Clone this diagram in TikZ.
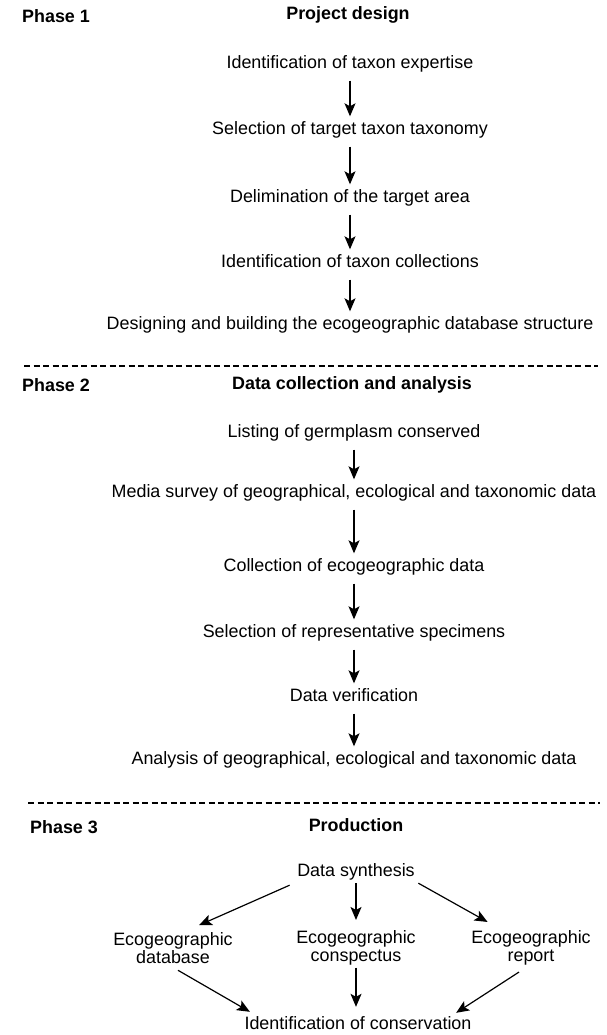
\documentclass[tikz,border=0pt]{standalone}
\usepackage{fontspec}
\setmainfont{Liberation Sans}
\usetikzlibrary{arrows.meta}

\tikzset{
  stage/.style={font=\fontsize{17.9}{18}\selectfont, inner sep=0pt, text height=13pt, text depth=4pt},
  twoline/.style={font=\fontsize{17.9}{18}\selectfont, inner sep=0pt, align=center},
  heading/.style={stage, font=\fontsize{17.9}{18}\selectfont\bfseries},
  phase/.style={heading, anchor=west},
  flow/.style={-{Stealth[length=13pt,width=11pt,inset=3pt]}, line width=1.2pt},
  chain/.style={flow, shorten <=8pt, shorten >=5pt},
  divider/.style={line width=1.6pt, dash pattern=on 6pt off 3.5pt}
}

\begin{document}
\begin{tikzpicture}[x=1pt,y=-1pt]
\useasboundingbox (0,0) rectangle (606,1035);

% phase 1:
\node[phase] (p1) at (22,18) {Phase 1};
\node[heading] (h1) at (348,15) {Project design};
\node[stage] (a1) at (350,64) {Identification of taxon expertise};
\node[stage] (a2) at (350,130) {Selection of target taxon taxonomy};
\node[stage] (a3) at (350,198) {Delimination of the target area};
\node[stage] (a4) at (350,263) {Identification of taxon collections};
\node[stage] (a5) at (350,325) {Designing and building the ecogeographic database structure};
\draw[chain] (a1) -- (a2);
\draw[chain] (a2) -- (a3);
\draw[chain] (a3) -- (a4);
\draw[chain] (a4) -- (a5);

\draw[divider] (24,366) -- (598,366);

% phase 2:
\node[phase] (p2) at (22,387) {Phase 2};
\node[heading] (h2) at (352,385) {Data collection and analysis};
\node[stage] (b1) at (354,433) {Listing of germplasm conserved};
\node[stage] (b2) at (354,493) {Media survey of geographical, ecological and taxonomic data};
\node[stage] (b3) at (354,567) {Collection of ecogeographic data};
\node[stage] (b4) at (354,633) {Selection of representative specimens};
\node[stage] (b5) at (354,697) {Data verification};
\node[stage] (b6) at (354,760) {Analysis of geographical, ecological and taxonomic data};
\draw[chain] (b1) -- (b2);
\draw[chain] (b2) -- (b3);
\draw[chain] (b3) -- (b4);
\draw[chain] (b4) -- (b5);
\draw[chain] (b5) -- (b6);

\draw[divider] (28,803) -- (600,803);

% phase 3:
\node[phase] (p3) at (30,829) {Phase 3};
\node[heading] (h3) at (356,827) {Production};
\node[stage] (c0) at (356,872) {Data synthesis};
\node[twoline] (c1) at (173,948) {Ecogeographic\\database};
\node[twoline] (c2) at (356,948) {Ecogeographic\\conspectus};
\node[twoline] (c3) at (531,948) {Ecogeographic\\report};
\node[stage] (c4) at (358,1025) {Identification of conservation};
\draw[flow] ([xshift=-7.5pt,yshift=-4.5pt]c0.south west) -- ([xshift=26pt,yshift=7pt]c1.north);
\draw[flow, shorten <=2.5pt, shorten >=10.5pt] (c0.south) -- (c2.north);
\draw[flow] ([xshift=3.5pt,yshift=-2.5pt]c0.south east) -- ([xshift=16.5pt,yshift=8.5pt]c3.north west);
\draw[flow] ([xshift=5pt,yshift=-6.5pt]c1.south) -- ([xshift=5.5pt,yshift=4.5pt]c4.north west);
\draw[flow, shorten <=2pt, shorten >=9.5pt] (c2.south) -- (c2.south |- c4.north);
\draw[flow] ([xshift=-12pt,yshift=-6.5pt]c3.south) -- ([xshift=-15.5pt,yshift=3.5pt]c4.north east);

\end{tikzpicture}
\end{document}
